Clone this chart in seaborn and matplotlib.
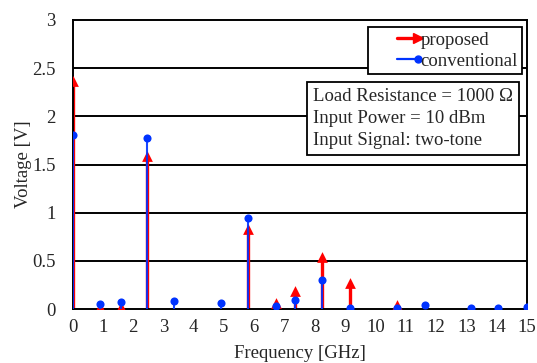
import matplotlib
matplotlib.use("Agg")
import matplotlib.pyplot as plt
import seaborn as sns
import pandas as pd
from matplotlib.lines import Line2D
from matplotlib.legend_handler import HandlerLine2D

freqs = [0.0, 0.9, 1.6, 2.45, 3.35, 4.9, 5.8, 6.7, 7.35, 8.25, 9.15, 10.7, 11.65, 13.15, 14.05, 15.0]
proposed = [2.37, 0.02, 0.02, 1.59, 0.0, 0.0, 0.83, 0.06, 0.19, 0.54, 0.27, 0.04, 0.0, 0.0, 0.0, 0.0]
conventional = [1.81, 0.05, 0.07, 1.78, 0.08, 0.06, 0.94, 0.03, 0.09, 0.30, 0.01, 0.01, 0.04, 0.01, 0.01, 0.02]
xticks = list(range(0, 16))
yticks = [0, 0.5, 1, 1.5, 2, 2.5, 3]

df = pd.DataFrame({"freq": freqs, "proposed": proposed, "conventional": conventional})

sns.set_theme(style="white")
plt.rcParams["font.family"] = ["Liberation Serif", "DejaVu Serif"]

FS = 13.5
fig = plt.figure(figsize=(5.37, 3.63), dpi=100)
ax = fig.add_axes([72.5 / 537, 1 - 309 / 363, (527 - 72.5) / 537, (309 - 20) / 363])

red = "#ff0000"
blue = "#0033ff"

for y in yticks[1:-1]:
    ax.axhline(y, color="black", lw=1.4, zorder=1)

ax.vlines(df["freq"], 0, df["proposed"], color=red, lw=2.4, zorder=2)
sns.scatterplot(data=df[df["proposed"] > 0.015], x="freq", y="proposed", marker="^", s=60,
                color=red, edgecolor=red, linewidth=0, ax=ax, zorder=3)
ax.vlines(df["freq"], 0, df["conventional"], color=blue, lw=1.5, alpha=0.9, zorder=4)
sns.scatterplot(data=df, x="freq", y="conventional", marker="o", s=34,
                color=blue, edgecolor=blue, linewidth=0, ax=ax, zorder=5)

ax.set_xlim(0, 15)
ax.set_ylim(0, 3)
ax.set_xticks(xticks)
ax.set_yticks(yticks)
ax.set_yticklabels(["0", "0.5", "1", "1.5", "2", "2.5", "3"])
ax.tick_params(axis="x", direction="in", length=4, width=1.2, color="black", pad=7, labelsize=FS)
ax.tick_params(axis="y", length=0, pad=12, labelsize=FS)
for s in ax.spines.values():
    s.set_color("black")
    s.set_linewidth(1.4)
ax.set_xlabel("Frequency [GHz]", fontsize=FS, labelpad=6.5)
ax.set_ylabel("Voltage [V]", fontsize=FS, labelpad=0)


class EndMarkerHandler(HandlerLine2D):
    def create_artists(self, legend, orig_handle, xdescent, ydescent, width, height, fontsize, trans):
        x1 = -xdescent + width
        x0 = x1 - 17
        y = (height - ydescent) / 2
        line = Line2D([x0, x1], [y, y])
        self.update_prop(line, orig_handle, legend)
        line.set_marker("None")
        mk = Line2D([x1 - 2], [y])
        self.update_prop(mk, orig_handle, legend)
        mk.set_linestyle("None")
        line.set_transform(trans)
        mk.set_transform(trans)
        return [line, mk]


h1 = Line2D([0, 1], [0, 0], color=red, lw=2.4, marker=">", markersize=6.5)
h2 = Line2D([0, 1], [0, 0], color=blue, lw=1.6, marker="o", markersize=5)
leg = ax.legend([h1, h2], ["proposed", "conventional"], loc="upper right",
                bbox_to_anchor=(522 / 537, 1 - 27.3 / 363), bbox_transform=fig.transFigure,
                fontsize=FS, numpoints=1, handlelength=2.6, handletextpad=0.0,
                labelspacing=0.22, borderpad=0.22, borderaxespad=0, fancybox=False,
                frameon=True, edgecolor="black", framealpha=1,
                handler_map={Line2D: EndMarkerHandler()})
leg.get_frame().set_linewidth(1.3)

fig.text(313 / 537, 1 - 88 / 363,
         "Load Resistance = 1000 Ω\nInput Power = 10 dBm\nInput Signal: two-tone",
         ha="left", va="top", fontsize=FS, linespacing=1.38,
         bbox=dict(boxstyle="square,pad=0.3", facecolor="white", edgecolor="black", linewidth=1.3))

fig.savefig("out.png", dpi=100)
